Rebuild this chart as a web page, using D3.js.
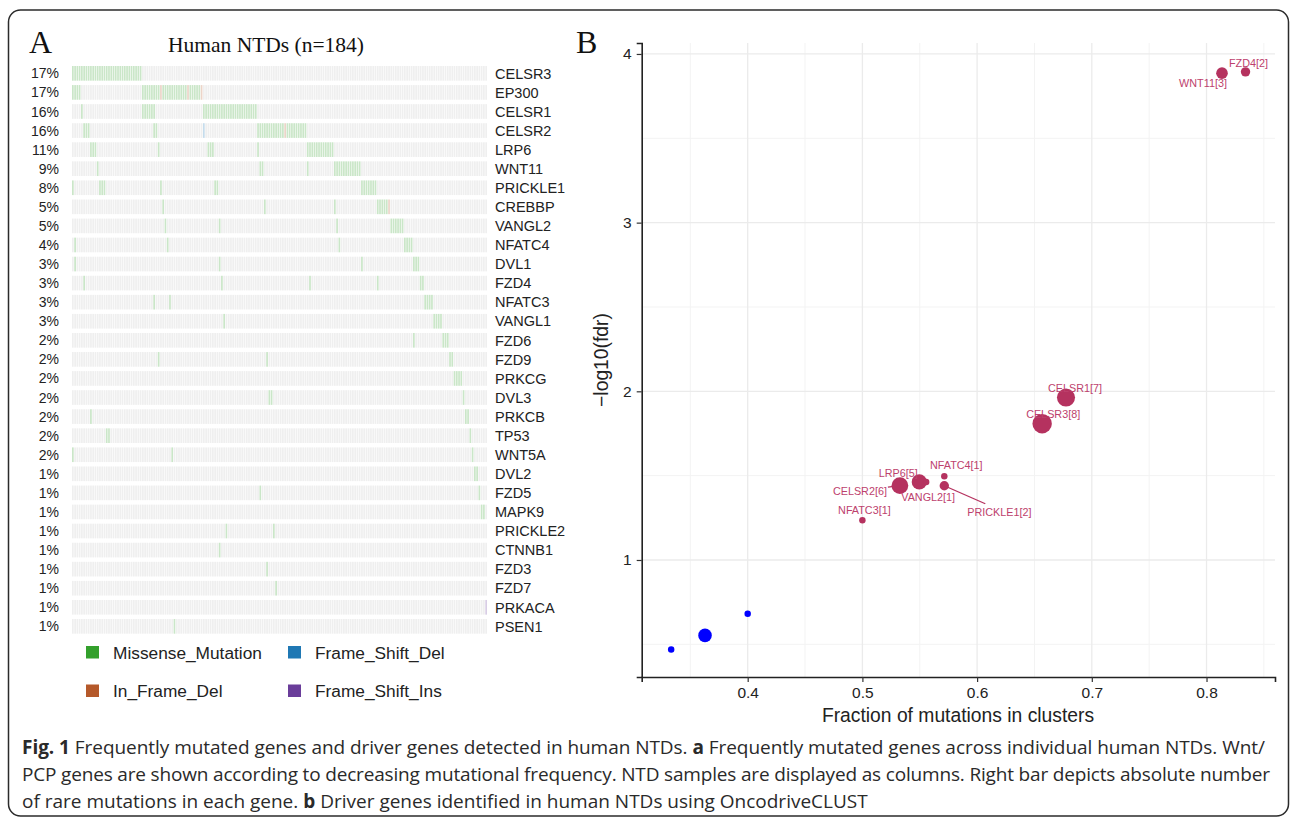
<!DOCTYPE html>
<html>
<head>
<meta charset="utf-8">
<script src="https://cdn.jsdelivr.net/npm/d3@7"></script>
<style>
  body { margin: 0; background: #fff; }
  svg { display: block; font-family: Arial, "Liberation Sans", sans-serif; }
</style>
</head>
<body>
<svg width="1290" height="820"></svg>
<script>
// ---- panel A data (oncoplot) ----
var nSamples = 184;
var genes = ["CELSR3", "EP300", "CELSR1", "CELSR2", "LRP6", "WNT11", "PRICKLE1", "CREBBP", "VANGL2", "NFATC4",
  "DVL1", "FZD4", "NFATC3", "VANGL1", "FZD6", "FZD9", "PRKCG", "DVL3", "PRKCB", "TP53",
  "WNT5A", "DVL2", "FZD5", "MAPK9", "PRICKLE2", "CTNNB1", "FZD3", "FZD7", "PRKACA", "PSEN1"];
var freqLabels = ["17%", "17%", "16%", "16%", "11%", "9%", "8%", "5%", "5%", "4%",
  "3%", "3%", "3%", "3%", "2%", "2%", "2%", "2%", "2%", "2%",
  "2%", "1%", "1%", "1%", "1%", "1%", "1%", "1%", "1%", "1%"];
// mutated sample columns per gene (ranges "a-b" or single index)
var mutatedSamples = [
  ["0-30"],
  ["0-3", "31-57"],
  ["4", "31-36", "58-81"],
  ["5-7", "36-37", "58", "82-103"],
  ["8-10", "38", "60-62", "82", "104-115"],
  ["11", "83-84", "104", "116-127"],
  ["0", "12-14", "39", "63-64", "128-134"],
  ["40", "85", "116", "135-140"],
  ["41", "65", "117", "141-146"],
  ["1", "42", "118", "147-150"],
  ["1", "65", "128", "151-153"],
  ["5", "66", "105", "135", "154-155"],
  ["36", "43", "156-159"],
  ["67", "160-163"],
  ["151", "164-166"],
  ["38", "86", "167-168"],
  ["169-172"],
  ["87-88", "173"],
  ["8", "174-175"],
  ["15-16", "176"],
  ["0", "44", "177"],
  ["178-179"],
  ["83", "180"],
  ["181-182"],
  ["68", "89"],
  ["65"],
  ["86"],
  ["90"],
  ["183"],
  ["45"]
];
// samples whose mutation is not a missense one: [gene, column]
var inFrameDel = [["EP300", 39], ["EP300", 51], ["EP300", 57], ["CELSR2", 94], ["CREBBP", 140]];
var frameShiftDel = [["CELSR2", 58]];
var frameShiftIns = [["PRKACA", 183]];
var mutTypes = ["Missense_Mutation", "Frame_Shift_Del", "In_Frame_Del", "Frame_Shift_Ins"];
var mutColors = ["#33a02c", "#1f78b4", "#b5592a", "#6a3d9a"];

// ---- panel B data (OncodriveCLUST) ----
var driverGenes = ["FZD4", "WNT11", "CELSR1", "CELSR3", "CELSR2", "LRP6", "VANGL2", "NFATC4", "PRICKLE1", "NFATC3"];
var driverClusters = [2, 3, 7, 8, 6, 5, 1, 1, 2, 1];
var driverFraction = [0.834, 0.8135, 0.6775, 0.6567, 0.5327, 0.5496, 0.5556, 0.5714, 0.5714, 0.5];
var driverLogFdr = [3.894, 3.886, 1.963, 1.808, 1.441, 1.463, 1.463, 1.497, 1.44, 1.236];
var otherFraction = [0.3333, 0.3628, 0.4];
var otherLogFdr = [0.469, 0.553, 0.681];
var otherClusters = [1, 4, 1];
var xTicks = [0.4, 0.5, 0.6, 0.7, 0.8];
var yTicks = [1, 2, 3, 4];

var svg = d3.select("svg");

// outer frame
svg.append("rect")
  .attr("x", 8.5).attr("y", 10).attr("width", 1280).attr("height", 806)
  .attr("rx", 12)
  .attr("fill", "none").attr("stroke", "#2b2b2b").attr("stroke-width", 1.5);

// ================= panel A =================
var typeColor = d3.scaleOrdinal().domain(mutTypes).range(mutColors);
var fade = function (c) { return d3.interpolateRgb("#ffffff", c)(0.26); };

var xCol = d3.scaleBand().domain(d3.range(nSamples)).range([72, 487]).paddingInner(0.25);
var yRow = d3.scaleBand().domain(genes).range([66, 633.7]).paddingInner(0.23);

// build cell table
var cells = [];
genes.forEach(function (g, i) {
  var types = new Array(nSamples).fill(null);
  mutatedSamples[i].forEach(function (r) {
    var p = r.split("-").map(Number);
    d3.range(p[0], (p.length > 1 ? p[1] : p[0]) + 1).forEach(function (s) { types[s] = "Missense_Mutation"; });
  });
  types.forEach(function (t, s) { cells.push({ gene: g, sample: s, type: t }); });
});
function setType(list, t) {
  list.forEach(function (d) {
    cells.find(function (c) { return c.gene === d[0] && c.sample === d[1]; }).type = t;
  });
}
setType(inFrameDel, "In_Frame_Del");
setType(frameShiftDel, "Frame_Shift_Del");
setType(frameShiftIns, "Frame_Shift_Ins");

var gA = svg.append("g");
gA.selectAll("rect.cell")
  .data(cells)
  .enter()
  .append("rect")
  .attr("class", "cell")
  .attr("x", (d) => xCol(d.sample))
  .attr("y", (d) => yRow(d.gene))
  .attr("width", xCol.bandwidth())
  .attr("height", yRow.bandwidth())
  .attr("fill", (d) => d.type ? fade(typeColor(d.type)) : "#efefef");

gA.selectAll("text.pct")
  .data(genes)
  .enter()
  .append("text")
  .attr("x", 59)
  .attr("y", (d) => yRow(d) + yRow.bandwidth() / 2)
  .attr("dy", "0.36em")
  .attr("text-anchor", "end")
  .attr("font-size", 14)
  .attr("fill", "#222")
  .text((d, i) => freqLabels[i]);

gA.selectAll("text.gene")
  .data(genes)
  .enter()
  .append("text")
  .attr("x", 495)
  .attr("y", (d) => yRow(d) + yRow.bandwidth() / 2)
  .attr("dy", "0.36em")
  .attr("font-size", 14.5)
  .attr("fill", "#222")
  .text((d) => d);

// title and panel letters
svg.append("text").attr("x", 266).attr("y", 52).attr("text-anchor", "middle")
  .attr("font-family", "'Liberation Serif', 'Times New Roman', serif").attr("font-size", 21.5)
  .attr("fill", "#111").text("Human NTDs (n=184)");
svg.append("text").attr("x", 29).attr("y", 53)
  .attr("font-family", "'Liberation Serif', 'Times New Roman', serif").attr("font-size", 32)
  .attr("fill", "#111").text("A");
svg.append("text").attr("x", 576).attr("y", 53)
  .attr("font-family", "'Liberation Serif', 'Times New Roman', serif").attr("font-size", 32)
  .attr("fill", "#111").text("B");

// legend (2 x 2, filled by column)
var legendOrder = ["Missense_Mutation", "In_Frame_Del", "Frame_Shift_Del", "Frame_Shift_Ins"];
var leg = gA.selectAll("g.leg")
  .data(legendOrder)
  .enter()
  .append("g")
  .attr("transform", (d, i) => "translate(" + (86 + Math.floor(i / 2) * 202) + "," + (646 + (i % 2) * 38.5) + ")");
leg.append("rect").attr("width", 13).attr("height", 12.5).attr("fill", (d) => typeColor(d));
leg.append("text").attr("x", 27).attr("y", 6.5).attr("dy", "0.36em")
  .attr("font-size", 17.3).attr("fill", "#222").text((d) => d);

// ================= panel B =================
var x = d3.scaleLinear().domain([0.3076, 0.8597]).range([641.7, 1275]);
var y = d3.scaleLinear().domain([0.3063, 4.065]).range([677, 43]);
var r = d3.scaleSqrt().domain([0, 8]).range([0, 10]);

var gB = svg.append("g");
// grid
var xMinor = [0.35, 0.45, 0.55, 0.65, 0.75, 0.85];
var yMinor = [0.5, 1.5, 2.5, 3.5];
gB.selectAll("line.xminor").data(xMinor).enter().append("line")
  .attr("x1", (d) => x(d)).attr("x2", (d) => x(d)).attr("y1", y.range()[0]).attr("y2", y.range()[1])
  .attr("stroke", "#f3f3f3").attr("stroke-width", 1);
gB.selectAll("line.yminor").data(yMinor).enter().append("line")
  .attr("y1", (d) => y(d)).attr("y2", (d) => y(d)).attr("x1", x.range()[0]).attr("x2", x.range()[1])
  .attr("stroke", "#f3f3f3").attr("stroke-width", 1);
gB.selectAll("line.xmajor").data(xTicks).enter().append("line")
  .attr("x1", (d) => x(d)).attr("x2", (d) => x(d)).attr("y1", y.range()[0]).attr("y2", y.range()[1])
  .attr("stroke", "#ebebeb").attr("stroke-width", 1.3);
gB.selectAll("line.ymajor").data(yTicks).enter().append("line")
  .attr("y1", (d) => y(d)).attr("y2", (d) => y(d)).attr("x1", x.range()[0]).attr("x2", x.range()[1])
  .attr("stroke", "#ebebeb").attr("stroke-width", 1.3);

// axes
var xAxis = gB.append("g").attr("transform", "translate(0," + y.range()[0] + ")")
  .call(d3.axisBottom(x).tickValues(xTicks).tickFormat(d3.format(".1f")).tickSizeOuter(0).tickSize(5).tickPadding(5));
var yAxis = gB.append("g").attr("transform", "translate(" + x.range()[0] + ",0)")
  .call(d3.axisLeft(y).tickValues(yTicks).tickFormat(d3.format("d")).tickSizeOuter(0).tickSize(5).tickPadding(5));
[xAxis, yAxis].forEach(function (a) {
  a.select(".domain").attr("stroke", "#222").attr("stroke-width", 1.6);
  a.selectAll(".tick line").attr("stroke", "#333").attr("stroke-width", 1.2);
  a.selectAll(".tick text").attr("font-size", 15.5).attr("fill", "#222")
    .attr("font-family", "Arial, 'Liberation Sans', sans-serif");
});

gB.append("text").attr("x", 958).attr("y", 722).attr("text-anchor", "middle")
  .attr("font-size", 19.3).attr("fill", "#222").text("Fraction of mutations in clusters");
gB.append("text").attr("transform", "translate(608,360) rotate(-90)").attr("text-anchor", "middle")
  .attr("font-size", 19.3).attr("fill", "#222").text("\u2212log10(fdr)");

// non-significant genes
gB.selectAll("circle.other")
  .data(otherFraction)
  .enter()
  .append("circle")
  .attr("cx", (d) => x(d))
  .attr("cy", (d, i) => y(otherLogFdr[i]))
  .attr("r", (d, i) => r(otherClusters[i]) - 0.3)
  .attr("fill", "#0000ff");

// driver genes
var drivers = driverGenes.map(function (g, i) {
  return { gene: g, n: driverClusters[i], fx: driverFraction[i], fy: driverLogFdr[i] };
});
// label placement (pixel offsets from the point, repel-style)
var labelOffset = {
  FZD4: [3, -9], WNT11: [-19, 10], CELSR1: [9, -9], CELSR3: [11, -10], CELSR2: [-40, 6],
  LRP6: [-21, -9], VANGL2: [2, 15], NFATC4: [12, -11], PRICKLE1: [55, 26], NFATC3: [2, -10]
};
var segmentEnd = { CELSR2: [-12, 1.5], PRICKLE1: [41, 18] };
var driverColor = "#b5325f";

gB.selectAll("line.seg")
  .data(drivers.filter((d) => segmentEnd[d.gene]))
  .enter()
  .append("line")
  .attr("x1", (d) => x(d.fx)).attr("y1", (d) => y(d.fy))
  .attr("x2", (d) => x(d.fx) + segmentEnd[d.gene][0])
  .attr("y2", (d) => y(d.fy) + segmentEnd[d.gene][1])
  .attr("stroke", driverColor).attr("stroke-width", 1.3);

gB.selectAll("circle.driver")
  .data(drivers)
  .enter()
  .append("circle")
  .attr("cx", (d) => x(d.fx))
  .attr("cy", (d) => y(d.fy))
  .attr("r", (d) => r(d.n) - 0.3)
  .attr("fill", driverColor);

gB.selectAll("text.driver")
  .data(drivers)
  .enter()
  .append("text")
  .attr("x", (d) => x(d.fx) + labelOffset[d.gene][0])
  .attr("y", (d) => y(d.fy) + labelOffset[d.gene][1])
  .attr("dy", "0.36em")
  .attr("text-anchor", "middle")
  .attr("font-size", 10.8)
  .attr("fill", "#bd416d")
  .text((d) => d.gene + "[" + d.n + "]");

// ================= caption =================
var captionLines = [
  [["Fig. 1", true], [" Frequently mutated genes and driver genes detected in human NTDs. ", false], ["a", true],
    [" Frequently mutated genes across individual human NTDs. Wnt/", false]],
  [["PCP genes are shown according to decreasing mutational frequency. NTD samples are displayed as columns. Right bar depicts absolute number", false]],
  [["of rare mutations in each gene. ", false], ["b", true], [" Driver genes identified in human NTDs using OncodriveCLUST", false]]
];
var captionWidth = [1243, 1248, null];
var cap = svg.selectAll("text.caption")
  .data(captionLines)
  .enter()
  .append("text")
  .attr("class", "caption")
  .attr("x", 22)
  .attr("y", (d, i) => 754 + i * 27)
  .attr("font-family", "'Open Sans', 'Noto Sans', sans-serif")
  .attr("font-size", 19)
  .attr("fill", "#2a2a2a")
  .each(function (d, i) {
    if (captionWidth[i]) d3.select(this).attr("textLength", captionWidth[i]).attr("lengthAdjust", "spacing");
  });
cap.selectAll("tspan")
  .data((d) => d)
  .enter()
  .append("tspan")
  .attr("font-weight", (d) => d[1] ? "bold" : null)
  .text((d) => d[0]);
</script>
</body>
</html>
